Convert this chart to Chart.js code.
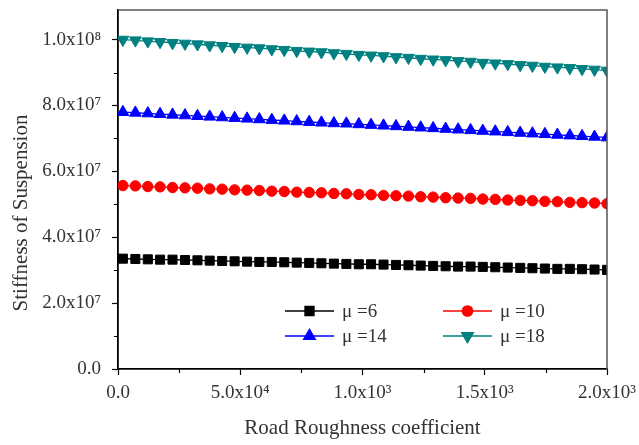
<!DOCTYPE html>
<html>
<head>
<meta charset="utf-8">
<script src="https://cdn.jsdelivr.net/npm/chart.js@4.4.1/dist/chart.umd.min.js"></script>
<style>
  html, body { margin: 0; padding: 0; background: #fff; }
  canvas { display: block; }
</style>
</head>
<body>
<canvas id="stiffnessChart" width="639" height="445"></canvas>
<script>
/* ---------------------------------------------------
   Data
---------------------------------------------------*/

const roughness = [20, 71, 122, 172, 223, 274, 325, 375, 426, 477, 528, 578, 629, 680, 731, 782, 832, 883, 934, 985,
    1035, 1086, 1137, 1188, 1238, 1289, 1340, 1391, 1442, 1492, 1543, 1594, 1645, 1695, 1746, 1797, 1848, 1898, 1949, 2000];

// stiffness in units of 1e7
const mu6 = [3.35, 3.34, 3.33, 3.32, 3.32, 3.31, 3.30, 3.29, 3.28, 3.27, 3.26, 3.25, 3.25, 3.24, 3.23, 3.22, 3.21, 3.20, 3.19, 3.18,
    3.18, 3.17, 3.16, 3.15, 3.14, 3.13, 3.12, 3.11, 3.11, 3.10, 3.09, 3.08, 3.07, 3.06, 3.05, 3.04, 3.04, 3.03, 3.02, 3.01];
const mu10 = [5.57, 5.56, 5.54, 5.53, 5.51, 5.50, 5.49, 5.47, 5.46, 5.44, 5.43, 5.42, 5.40, 5.39, 5.37, 5.36, 5.35, 5.33, 5.32, 5.30,
    5.29, 5.27, 5.26, 5.25, 5.23, 5.22, 5.20, 5.19, 5.18, 5.16, 5.15, 5.13, 5.12, 5.11, 5.09, 5.08, 5.06, 5.05, 5.04, 5.02];
const mu14 = [7.80, 7.78, 7.76, 7.74, 7.72, 7.70, 7.68, 7.66, 7.64, 7.62, 7.60, 7.58, 7.56, 7.54, 7.52, 7.50, 7.48, 7.46, 7.45, 7.43,
    7.41, 7.39, 7.37, 7.35, 7.33, 7.31, 7.29, 7.27, 7.25, 7.23, 7.21, 7.19, 7.17, 7.15, 7.13, 7.11, 7.09, 7.07, 7.05, 7.03];
const mu18 = [10.00, 9.98, 9.95, 9.93, 9.90, 9.88, 9.86, 9.83, 9.81, 9.78, 9.76, 9.74, 9.71, 9.69, 9.66, 9.64, 9.62, 9.59, 9.57, 9.54,
    9.52, 9.50, 9.47, 9.45, 9.42, 9.40, 9.38, 9.35, 9.33, 9.30, 9.28, 9.26, 9.23, 9.21, 9.18, 9.16, 9.14, 9.11, 9.09, 9.06];

const seriesNames = ["\u03bc =6", "\u03bc =10", "\u03bc =14", "\u03bc =18"];

const xTickValues = [0, 500, 1000, 1500, 2000];
const xTickLabels = ["0.0", "5.0x10\u2074", "1.0x10\u00b3", "1.5x10\u00b3", "2.0x10\u00b3"];   // "10^4" as printed in the source
const xMinorTicks = [250, 750, 1250, 1750];

const yTickValues = [0, 2e7, 4e7, 6e7, 8e7, 1e8];
const yTickLabels = ["0.0", "2.0x10\u2077", "4.0x10\u2077", "6.0x10\u2077", "8.0x10\u2077", "1.0x10\u2078"];
const yMinorTicks = [1e7, 3e7, 5e7, 7e7, 9e7];

const yTitle = "Stiffness of Suspension";
const xTitle = "Road Roughness coefficient";

/* ---------------------------------------------------
   Helpers
---------------------------------------------------*/

const FONT = "'Liberation Serif', 'Times New Roman', serif";
const TEXT = "#333";

function toPoints(values) {
    return values.map((v, i) => ({ x: roughness[i], y: v * 1e7 }));
}

function makeSet(label, values, color, style, radius, rotation) {
    return {
        label: label,
        data: toPoints(values),
        borderColor: color,
        backgroundColor: color,
        borderWidth: 1.3,
        pointStyle: style,
        pointRadius: radius,
        pointRotation: rotation,
        pointBorderWidth: 1,
        pointBorderColor: color,
        pointBackgroundColor: color,
        tension: 0
    };
}

const datasets = [
    makeSet(seriesNames[0], mu6, "#000000", "rect", 6.4, 0),
    makeSet(seriesNames[1], mu10, "#ff0000", "circle", 5.2, 0),
    makeSet(seriesNames[2], mu14, "#0000ff", "triangle", 6.8, 0),
    makeSet(seriesNames[3], mu18, "#008080", "triangle", 6.8, 180)
];

/* ---------------------------------------------------
   Frame, minor ticks, y title and in-plot legend
---------------------------------------------------*/

const framePlugin = {
    id: "frame",
    afterDraw(chart) {
        const { ctx, chartArea: a, scales } = chart;
        ctx.save();

        // top and right border
        ctx.strokeStyle = "#555";
        ctx.lineWidth = 1.5;
        ctx.beginPath();
        ctx.moveTo(a.left, a.top);
        ctx.lineTo(a.right, a.top);
        ctx.lineTo(a.right, a.bottom);
        ctx.stroke();

        // minor ticks
        ctx.strokeStyle = "#000";
        ctx.lineWidth = 1.2;
        ctx.beginPath();
        xMinorTicks.forEach(v => {
            const px = Math.round(scales.x.getPixelForValue(v)) + 0.5;
            ctx.moveTo(px, a.bottom);
            ctx.lineTo(px, a.bottom + 4);
        });
        yMinorTicks.forEach(v => {
            const py = Math.round(scales.y.getPixelForValue(v)) + 0.5;
            ctx.moveTo(a.left, py);
            ctx.lineTo(a.left - 4, py);
        });
        ctx.stroke();

        // y axis title (sits a little below the axis centre in the source)
        ctx.fillStyle = TEXT;
        ctx.font = "21px " + FONT;
        ctx.textAlign = "center";
        ctx.textBaseline = "middle";
        ctx.translate(21, 213);
        ctx.rotate(-Math.PI / 2);
        ctx.fillText(yTitle, 0, 0);
        ctx.setTransform(1, 0, 0, 1, 0, 0);

        // legend, two columns inside the plot
        const slots = [
            { x: 285, y: 311 },
            { x: 443, y: 311 },
            { x: 285, y: 336 },
            { x: 443, y: 336 }
        ];
        ctx.font = "19px " + FONT;
        ctx.textBaseline = "middle";
        ctx.textAlign = "left";
        chart.data.datasets.forEach((ds, i) => {
            const s = slots[i];
            ctx.strokeStyle = ds.borderColor;
            ctx.fillStyle = ds.backgroundColor;
            ctx.lineWidth = 1.3;
            ctx.beginPath();
            ctx.moveTo(s.x, s.y);
            ctx.lineTo(s.x + 49, s.y);
            ctx.stroke();
            Chart.helpers.drawPoint(ctx, {
                pointStyle: ds.pointStyle,
                radius: ds.pointRadius,
                rotation: ds.pointRotation,
                borderWidth: 1
            }, s.x + 24.5, s.y);
            ctx.fillStyle = TEXT;
            ctx.fillText(ds.label, s.x + 57, s.y + 1);
        });

        ctx.restore();
    }
};

/* ---------------------------------------------------
   Chart
---------------------------------------------------*/

new Chart(document.getElementById("stiffnessChart"), {
    type: "line",
    data: { datasets: datasets },
    plugins: [framePlugin],
    options: {
        responsive: false,
        animation: false,
        devicePixelRatio: 1,
        layout: { padding: { top: 10, left: 0, right: 0, bottom: 0 } },
        plugins: {
            legend: { display: false },
            tooltip: { enabled: false }
        },
        scales: {
            x: {
                type: "linear",
                min: 0,
                max: 2000,
                afterFit(scale) {
                    scale.height = 76;
                    scale.paddingLeft = 0;
                    scale.paddingRight = 32;
                },
                afterBuildTicks(scale) { scale.ticks = xTickValues.map(v => ({ value: v })); },
                ticks: {
                    callback: (v) => xTickLabels[xTickValues.indexOf(v)],
                    font: { family: FONT, size: 19 },
                    color: TEXT,
                    padding: 7,
                    maxRotation: 0
                },
                grid: {
                    drawOnChartArea: false,
                    drawTicks: true,
                    tickLength: 6,
                    tickColor: "#000",
                    tickWidth: 1.2
                },
                border: { color: "#000", width: 1.8 },
                title: {
                    display: true,
                    text: xTitle,
                    font: { family: FONT, size: 21 },
                    color: TEXT,
                    padding: { top: 0, bottom: 4 }
                }
            },
            y: {
                type: "linear",
                min: 0,
                max: 1.09e8,
                afterFit(scale) {
                    scale.width = 118;
                    scale.paddingTop = 0;
                    scale.paddingBottom = 0;
                },
                afterBuildTicks(scale) { scale.ticks = yTickValues.map(v => ({ value: v })); },
                ticks: {
                    callback: (v) => yTickLabels[yTickValues.indexOf(v)],
                    font: { family: FONT, size: 19 },
                    color: TEXT,
                    padding: 11
                },
                grid: {
                    drawOnChartArea: false,
                    drawTicks: true,
                    tickLength: 6,
                    tickColor: "#000",
                    tickWidth: 1.2
                },
                border: { color: "#000", width: 1.8 }
            }
        }
    }
});
</script>
</body>
</html>
